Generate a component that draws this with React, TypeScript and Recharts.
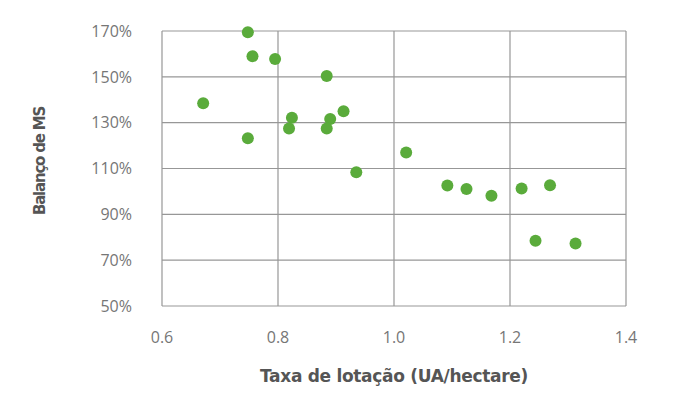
import { CartesianGrid, Scatter, ScatterChart, XAxis, YAxis } from "recharts";

const lotacao = [0.748, 0.756, 0.795, 0.884, 0.671, 0.748, 0.824, 0.819, 0.89, 0.884, 0.913, 0.935, 1.021, 1.092, 1.125, 1.168, 1.22, 1.269, 1.244, 1.313];
const balanco = [169.5, 159, 157.8, 150.4, 138.5, 123.2, 132.1, 127.5, 131.6, 127.5, 135, 108.4, 117, 102.6, 101.1, 98.1, 101.3, 102.7, 78.5, 77.3];
const xTicks = [0.6, 0.8, 1.0, 1.2, 1.4];
const yTicks = [50, 70, 90, 110, 130, 150, 170];

const points = lotacao.map((x, i) => ({ x, y: balanco[i] }));

const tickStyle = { fill: "#767676", fontSize: 16, fontFamily: "'Open Sans', sans-serif" };
const titleFont = "'DejaVu Sans', sans-serif";

function YTitle() {
  return (
    <text
      x={45}
      y={161}
      transform="rotate(-90, 45, 161)"
      textAnchor="middle"
      fill="#555555"
      fontFamily={titleFont}
      fontWeight={700}
      fontSize={15}
      letterSpacing={-1.2}
    >
      Balanço de MS
    </text>
  );
}

function Dot(props: any) {
  return <circle cx={props.cx} cy={props.cy} r={6} fill="#5aab3b" />;
}

export default function App() {
  return (
    <div style={{ position: "absolute", left: 0, top: 0, background: "#fff" }}>
      <ScatterChart width={698} height={395} margin={{ top: 31, right: 72, bottom: 0, left: 0 }}>
        <CartesianGrid stroke="#979797" strokeWidth={1.2} />
        <XAxis
          type="number"
          dataKey="x"
          domain={[0.6, 1.4]}
          ticks={xTicks}
          tickFormatter={(v: number) => v.toFixed(1)}
          axisLine={false}
          tickLine={false}
          tickSize={0}
          tickMargin={26}
          height={89}
          tick={tickStyle}
          label={{
            value: "Taxa de lotação (UA/hectare)",
            position: "insideBottom",
            offset: 13,
            fill: "#555555",
            fontFamily: titleFont,
            fontWeight: 700,
            fontSize: 17,
            letterSpacing: -0.3,
          }}
        />
        <YAxis
          type="number"
          dataKey="y"
          domain={[50, 170]}
          ticks={yTicks}
          tickFormatter={(v: number) => `${v}%`}
          axisLine={false}
          tickLine={false}
          tickSize={0}
          tickMargin={30}
          width={162}
          tick={tickStyle}
          label={<YTitle />}
        />
        <Scatter data={points} shape={<Dot />} isAnimationActive={false} />
      </ScatterChart>
    </div>
  );
}
